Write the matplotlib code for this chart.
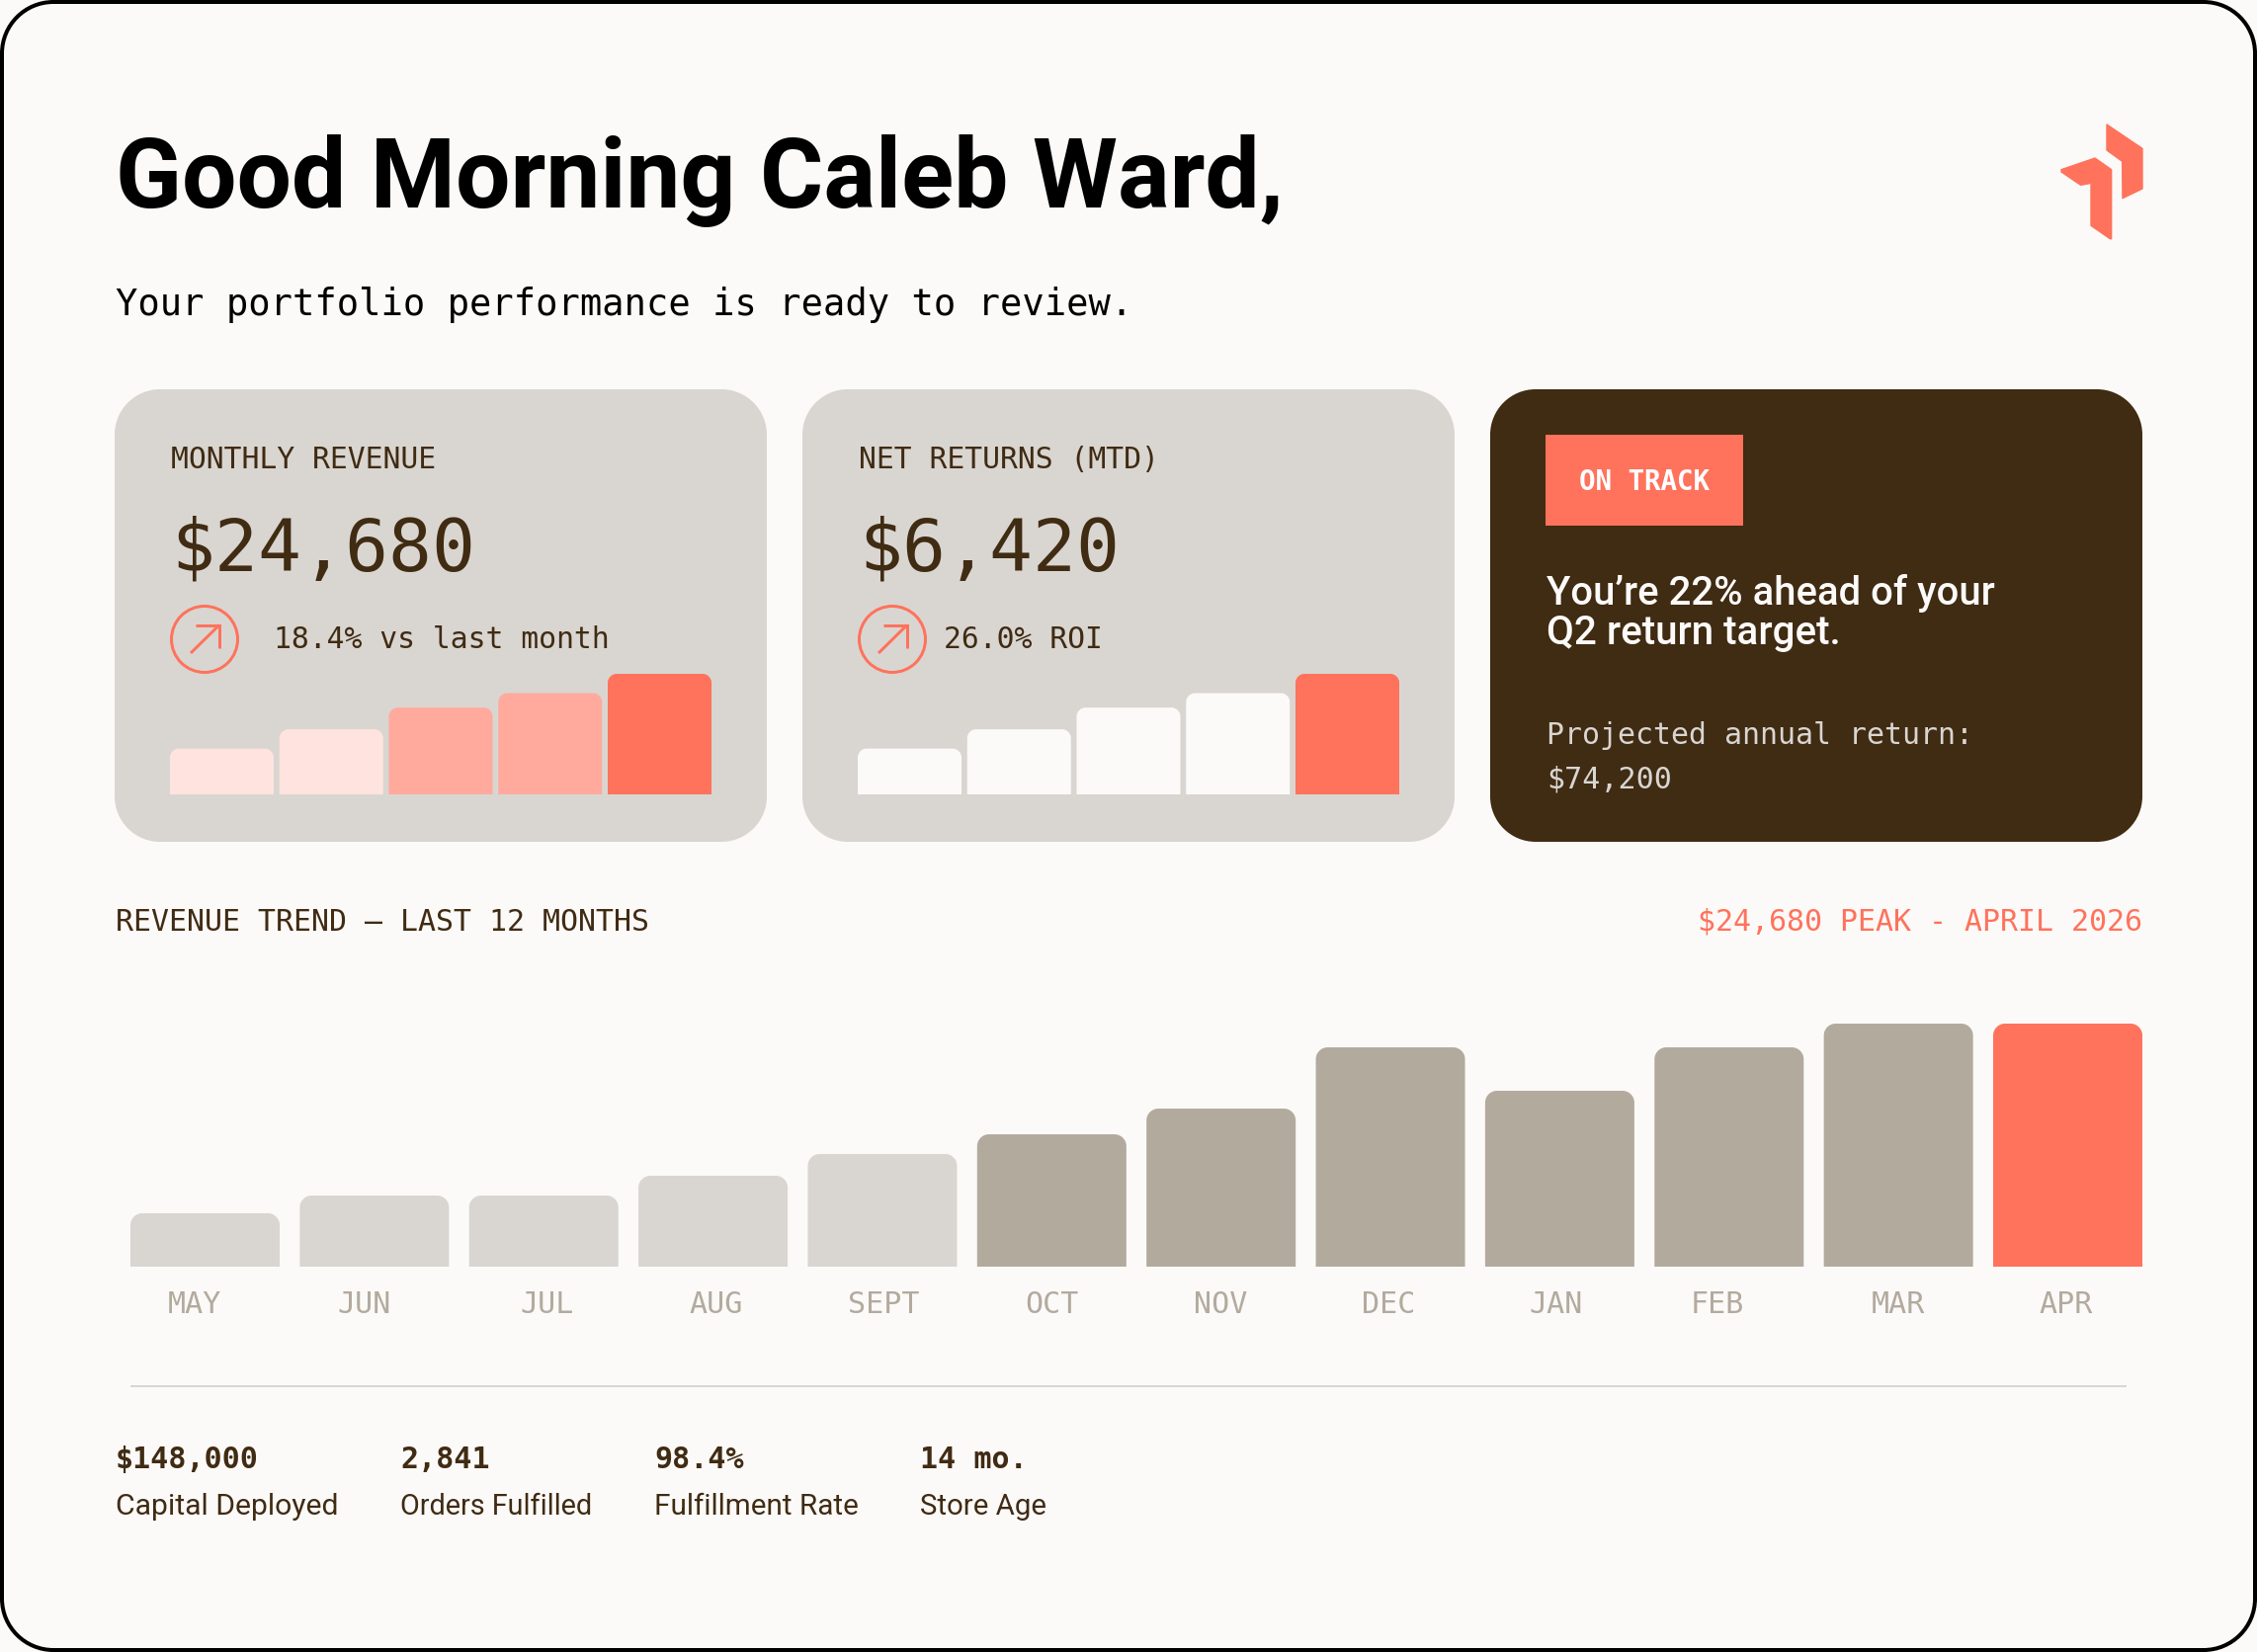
import matplotlib
matplotlib.use("Agg")
import matplotlib.pyplot as plt
from matplotlib.patches import Circle, PathPatch, Polygon, Rectangle
from matplotlib.path import Path

W, H = 2284, 1672
PT = 0.72  # px -> pt at dpi 100

# ---------- palette ----------
BG = "#FBFAF8"
CARD = "#D9D6D1"
DARK = "#402B13"
CORAL = "#FF725C"
TAUPE = "#B3AA9E"
PINK_L = "#FFE3DE"
PINK_M = "#FFAA9D"

# ---------- data ----------
trend_months = ["MAY", "JUN", "JUL", "AUG", "SEPT", "OCT", "NOV", "DEC", "JAN", "FEB", "MAR", "APR"]
trend_revenue = [5420, 7220, 7220, 9230, 11440, 13440, 16050, 22270, 17860, 22270, 24680, 24680]
trend_colors = [CARD] * 5 + [TAUPE] * 6 + [CORAL]
trend_label_shift = [-0.06, -0.06, 0.02, 0.02, 0.01, 0.0, 0.0, -0.01, -0.02, -0.07, 0.0, -0.01]

mini_values = [38, 54, 72, 84, 100]
mini_colors_revenue = [PINK_L, PINK_L, PINK_M, PINK_M, CORAL]
mini_colors_returns = [BG, BG, BG, BG, CORAL]

stat_values = ["$148,000", "2,841", "98.4%", "14 mo."]
stat_labels = ["Capital Deployed", "Orders Fulfilled", "Fulfillment Rate", "Store Age"]
stat_x = [117, 405, 662, 931]
stat_label_w = [226, 195, 207, 128]

MONO = "DejaVu Sans Mono"
SANS = "Roboto"

fig = plt.figure(figsize=(W / 100, H / 100), dpi=100, facecolor=BG)
page = fig.add_axes([0, 0, 1, 1])
page.set_xlim(0, W)
page.set_ylim(H, 0)
page.axis("off")
renderer = fig.canvas.get_renderer()


def txt(x, y, s, px, color=DARK, family=MONO, weight="normal", ha="left", fit=None):
    t = page.text(x, y, s, fontsize=px * PT, color=color, family=family, weight=weight,
                  ha=ha, va="baseline")
    if fit:
        w = t.get_window_extent(renderer).width
        t.set_fontsize(px * PT * fit / w)
    return t


def round_box(x0, y0, x1, y1, r, **kw):
    k = r * 0.448
    verts = [(x0 + r, y0), (x1 - r, y0), (x1 - k, y0), (x1, y0 + k), (x1, y0 + r),
             (x1, y1 - r), (x1, y1 - k), (x1 - k, y1), (x1 - r, y1),
             (x0 + r, y1), (x0 + k, y1), (x0, y1 - k), (x0, y1 - r),
             (x0, y0 + r), (x0, y0 + k), (x0 + k, y0), (x0 + r, y0), (x0 + r, y0)]
    C, L = Path.CURVE4, Path.LINETO
    codes = [Path.MOVETO, L, C, C, C, L, C, C, C, L, C, C, C, L, C, C, C, Path.CLOSEPOLY]
    page.add_patch(PathPatch(Path(verts, codes), **kw))


def card(x0, x1, color):
    round_box(x0, 394, x1, 852, 46, fc=color, ec="none")


def round_tops(ax, bars, r):
    """Give each bar rounded top corners of r pixels."""
    for rect in bars:
        (x0, y0), (x1, y1) = ax.transData.transform(
            [(rect.get_x(), rect.get_y()), (rect.get_x() + rect.get_width(), rect.get_y() + rect.get_height())])
        rx, ry = r / abs(x1 - x0), r / abs(y1 - y0)
        k = 0.45
        verts = [(0, 0), (0, 1 - ry), (0, 1 - ry * k), (rx * k, 1), (rx, 1),
                 (1 - rx, 1), (1 - rx * k, 1), (1, 1 - ry * k), (1, 1 - ry), (1, 0), (0, 0)]
        codes = [Path.MOVETO, Path.LINETO, Path.CURVE4, Path.CURVE4, Path.CURVE4,
                 Path.LINETO, Path.CURVE4, Path.CURVE4, Path.CURVE4, Path.LINETO, Path.CLOSEPOLY]
        p = Path(verts, codes)
        rect.get_path = (lambda q: (lambda: q))(p)


def sub_axes(left, top, right, bottom):
    ax = fig.add_axes([left / W, 1 - bottom / H, (right - left) / W, (bottom - top) / H])
    ax.patch.set_visible(False)
    for s in ax.spines.values():
        s.set_visible(False)
    return ax


def mini_chart(left, colors):
    ax = sub_axes(left, 682, left + 548, 804)
    w = 105 / 110.75
    bars = ax.bar(range(len(mini_values)), mini_values, width=w, color=colors, linewidth=0)
    ax.set_xlim(-w / 2, len(mini_values) - 1 + w / 2)
    ax.set_ylim(0, 100)
    ax.axis("off")
    round_tops(ax, bars, 9)


def trend_icon(cx, cy):
    page.add_patch(Circle((cx, cy), 33.5, fc="none", ec=CORAL, lw=3 * PT))
    page.plot([cx - 14, cx + 15], [cy + 14, cy - 14.5], color=CORAL, lw=3 * PT, solid_capstyle="butt")
    page.plot([cx - 9, cx + 15, cx + 15], [cy - 14.5, cy - 14.5, cy + 9], color=CORAL, lw=3 * PT,
              solid_joinstyle="miter", solid_capstyle="butt")


# ---------- frame ----------
round_box(2, 2, W - 2, H - 2, 52, fc=BG, ec="black", lw=4 * PT)

# ---------- header ----------
txt(117, 210, "Good Morning Caleb Ward,", 96, color="black", family=SANS, weight="semibold", fit=1182)
txt(117, 319, "Your portfolio performance is ready to review.", 36, color="black", fit=1026)

right_piece = [(696, 138), (804, 211), (804, 333), (744, 362), (743, 250), (696, 216)]
left_piece = [(558, 275), (660, 240), (710, 275), (710, 485), (706, 485), (648, 445),
              (648, 316), (617, 322), (558, 282)]
for piece in (right_piece, left_piece):
    page.add_patch(Polygon([(1900 + x / 3, 80 + y / 3) for x, y in piece], closed=True,
                           fc=CORAL, ec=CORAL, lw=1, joinstyle="round"))

# ---------- cards ----------
card(116, 776, CARD)
card(812, 1472, CARD)
card(1508, 2168, DARK)

txt(173, 474, "MONTHLY REVENUE", 30, fit=270)
txt(173, 578, "$24,680", 73)
trend_icon(207, 647)
txt(277, 656, "18.4% vs last month", 30, fit=342)
mini_chart(172, mini_colors_revenue)

txt(869, 474, "NET RETURNS (MTD)", 30, fit=306)
txt(869, 578, "$6,420", 73)
trend_icon(903, 647)
txt(955, 656, "26.0% ROI", 30, fit=162)
mini_chart(868, mini_colors_returns)

page.add_patch(Rectangle((1564, 440), 200, 92, fc=CORAL, ec="none"))
txt(1664, 496, "ON TRACK", 27.5, color="white", weight="bold", ha="center")
txt(1565, 612, "You\u2019re 22% ahead of your", 40, color=BG, family=SANS, weight="medium", fit=454)
txt(1565, 652, "Q2 return target.", 40, color=BG, family=SANS, weight="medium", fit=298)
txt(1565, 753, "Projected annual return:", 30, color=CARD, fit=434)
txt(1565, 797, "$74,200", 30, color=CARD, fit=127)

# ---------- trend chart ----------
txt(117, 942, "REVENUE TREND \u2013 LAST 12 MONTHS", 30, fit=541)
txt(2168, 942, "$24,680 PEAK - APRIL 2026", 30, color=CORAL, ha="right", fit=452)

ax = sub_axes(132, 1036, 2168, 1282)
w = 151 / 171.36
xs = list(range(len(trend_months)))
bars = ax.bar(xs, trend_revenue, width=w, color=trend_colors, linewidth=0)
ax.set_xlim(-w / 2, len(xs) - 1 + w / 2)
ax.set_ylim(0, max(trend_revenue))
ax.set_yticks([])
ax.set_xticks([x + d for x, d in zip(xs, trend_label_shift)], trend_months)
ax.tick_params(axis="x", length=0, pad=24 * PT, labelsize=30 * PT, labelcolor=TAUPE)
for lab in ax.get_xticklabels():
    lab.set_family(MONO)
round_tops(ax, bars, 12)

# ---------- footer ----------
page.plot([132, 2152], [1403, 1403], color=CARD, lw=2 * PT, solid_capstyle="butt")
for x, v, l, lw_ in zip(stat_x, stat_values, stat_labels, stat_label_w):
    txt(x, 1486, v, 30, weight="bold")
    txt(x, 1533, l, 30, family=SANS, fit=lw_)

fig.savefig("out.png", dpi=100, facecolor=BG)
